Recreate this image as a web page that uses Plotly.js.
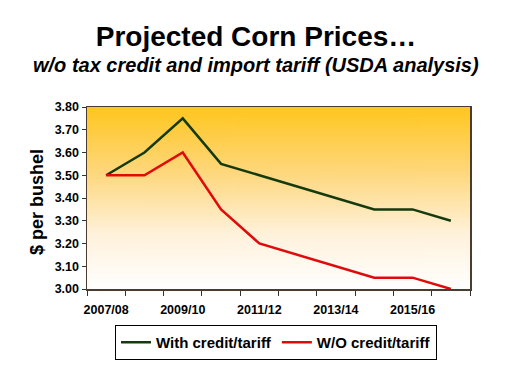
<!DOCTYPE html>
<html>
<head>
<meta charset="utf-8">
<script src="https://cdn.plot.ly/plotly-3.0.1.min.js"></script>
<style>
html,body{margin:0;padding:0;background:#fff;}
#chart{width:512px;height:384px;}
</style>
</head>
<body>
<div id="chart"></div>
<script>
// Data
var seasons = ['2007/08','2008/09','2009/10','2010/11','2011/12','2012/13','2013/14','2014/15','2015/16','2016/17'];
var withCredit = [3.50, 3.60, 3.75, 3.55, 3.50, 3.45, 3.40, 3.35, 3.35, 3.30];
var withoutCredit = [3.50, 3.50, 3.60, 3.35, 3.20, 3.15, 3.10, 3.05, 3.05, 3.00];
var xTickLabels = ['2007/08','','2009/10','','2011/12','','2013/14','','2015/16',''];
var seriesNames = ['With credit/tariff', 'W/O credit/tariff'];

// gradient background image for plot area
function gradientURL() {
  var c = document.createElement('canvas');
  c.width = 4; c.height = 200;
  var ctx = c.getContext('2d');
  var g = ctx.createLinearGradient(0, 0, 0, 200);
  g.addColorStop(0, '#FFC61E');
  g.addColorStop(0.35, '#FED77A');
  g.addColorStop(0.7, '#FFF2DC');
  g.addColorStop(1, '#FFFFFF');
  ctx.fillStyle = g;
  ctx.fillRect(0, 0, 4, 200);
  return c.toDataURL('image/png');
}

var font = 'Liberation Sans, Arial, sans-serif';

var traces = [
  {x: seasons, y: withCredit, name: seriesNames[0], type: 'scatter', mode: 'lines',
   line: {color: '#143A0E', width: 2.5}},
  {x: seasons, y: withoutCredit, name: seriesNames[1], type: 'scatter', mode: 'lines',
   line: {color: '#E00A0A', width: 2.5}}
];

var layout = {
  width: 512, height: 384,
  margin: {l: 87, r: 42, t: 107, b: 95},
  paper_bgcolor: '#ffffff',
  plot_bgcolor: 'rgba(0,0,0,0)',
  showlegend: true,
  title: {
    text: '<b>Projected Corn Prices…</b>',
    font: {family: font, size: 28, color: '#000'},
    x: 0.5, xanchor: 'center', xref: 'container',
    y: 1 - 36/384, yanchor: 'middle', yref: 'container'
  },
  annotations: [
    {text: '<b><i>w/o tax credit and import tariff (USDA analysis)</i></b>',
     xref: 'paper', yref: 'paper', x: (256-87)/383, y: (289-65)/182,
     xanchor: 'center', yanchor: 'middle', showarrow: false,
     font: {family: font, size: 20, color: '#000'}},
    {text: '<b>$ per bushel</b>', textangle: -90,
     xref: 'paper', yref: 'paper', x: (37-87)/383, y: (289-202)/182,
     xanchor: 'center', yanchor: 'middle', showarrow: false,
     font: {family: font, size: 18, color: '#000'}}
  ],
  images: [{
    source: gradientURL(), xref: 'paper', yref: 'paper',
    x: 0, y: 1, sizex: 1, sizey: 1, sizing: 'stretch',
    xanchor: 'left', yanchor: 'top', layer: 'below'
  }],
  xaxis: {
    type: 'category',
    range: [-0.5, 9.5],
    tickmode: 'array',
    tickvals: seasons,
    ticktext: xTickLabels,
    tickson: 'boundaries',
    tickangle: 0,
    ticks: 'outside', ticklen: 5, tickcolor: '#333',
    ticklabelstandoff: 8,
    showgrid: false, zeroline: false,
    showline: true, linecolor: '#4a3c30', linewidth: 1.5, mirror: true,
    tickfont: {family: font, size: 12.5, color: '#000', weight: 'bold'}
  },
  yaxis: {
    range: [3.0, 3.8],
    dtick: 0.1, tick0: 3.0,
    tickformat: '.2f',
    ticks: 'outside', ticklen: 4, tickcolor: '#333',
    showgrid: false, zeroline: false,
    showline: true, linecolor: '#4a3c30', linewidth: 1.5, mirror: true,
    tickfont: {family: font, size: 12.5, color: '#000', weight: 'bold'}
  },
  legend: {
    orientation: 'h',
    x: (276-87)/383, xanchor: 'center',
    y: -(325-289)/182, yanchor: 'top',
    bgcolor: '#ffffff', bordercolor: '#000', borderwidth: 1,
    font: {family: font, size: 15, color: '#000', weight: 'bold'},
    itemwidth: 30, tracegroupgap: 0
  }
};

Plotly.newPlot('chart', traces, layout, {staticPlot: true, displayModeBar: false});
</script>
</body>
</html>
